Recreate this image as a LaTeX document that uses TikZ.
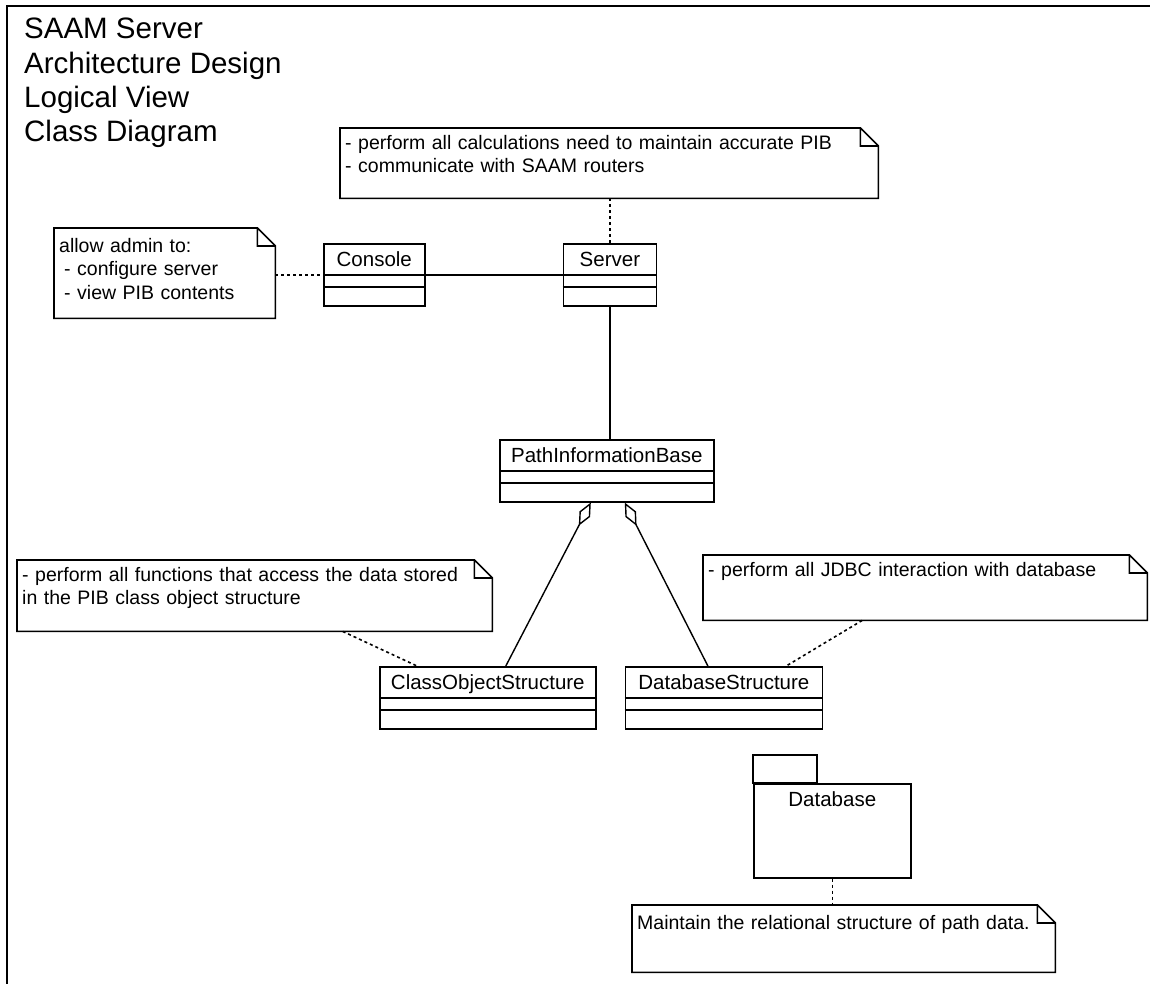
\documentclass[tikz,border=0pt]{standalone}
\usepackage{fontspec}
\setmainfont{Liberation Sans}
\usetikzlibrary{positioning,arrows.meta}

\begin{document}
\begin{tikzpicture}[x=1pt,y=-1pt,
	boxline/.style={line width=1.6pt},
	classbox/.style={rectangle,draw,boxline,anchor=north west,inner xsep=0pt,inner ysep=4pt,text height=19pt,text depth=35pt,font=\fontsize{20.5}{24}\selectfont},
	notebox/.style={rectangle,anchor=north west,inner xsep=5pt,inner ysep=6pt,text height=15pt,align=left,font=\fontsize{19.5}{23.5}\selectfont},
	noteline/.style={line width=1.6pt,dash pattern=on 3pt off 3pt},
	assoc/.style={line width=1.4pt},
	aggr/.style={line width=1.4pt,arrows={Diamond[open,length=26pt,width=12pt]-}}]
	\useasboundingbox (0,0) rectangle (1150,984);
	\draw[line width=1.8pt] (1150,6) -- (7,6) -- (7,984);

	\node[anchor=north west,inner sep=0pt,align=left,font=\fontsize{29.5}{34.3}\selectfont] (title) at (24,18) {SAAM Server\\Architecture Design\\Logical View\\Class Diagram};

	\node[classbox,minimum width=101pt] (console) at (323,243) {Console};
	\node[classbox,minimum width=93pt,right=137pt of console] (server) {Server};
	\node[classbox,minimum width=214pt] (pib) at (499,439) {PathInformationBase};
	\node[classbox,minimum width=216pt] (cos) at (379,666) {ClassObjectStructure};
	\node[classbox,minimum width=197pt,right=28pt of cos] (dbs) {DatabaseStructure};
	\foreach \cls in {console,server,pib,cos,dbs}
		\draw[boxline] ([yshift=-32pt]\cls.north west) -- ([yshift=-32pt]\cls.north east)
			([yshift=-44pt]\cls.north west) -- ([yshift=-44pt]\cls.north east);

	\node[classbox,minimum width=157pt,text depth=67pt] (dbpkg) at (753,783) {Database};
	\draw[boxline] (dbpkg.north west) rectangle ([xshift=64pt,yshift=28pt]dbpkg.north west);

	\node[notebox,text width=528pt,text depth=43pt] (topnote) at (340,128) {- perform all calculations need to maintain accurate PIB\\- communicate with SAAM routers};
	\node[notebox,text width=211pt,text height=18pt,text depth=60pt] (adminnote) at (54,228) {allow admin to:\\\hspace*{5pt}- configure server\\\hspace*{5pt}- view PIB contents};
	\node[notebox,text width=465pt,text depth=44pt] (leftnote) at (17,560) {- perform all functions that access the data stored\\in the PIB class object structure};
	\node[notebox,text width=434pt,text depth=38pt] (rightnote) at (703,555) {- perform all JDBC interaction with database};
	\node[notebox,text width=413pt,text height=18pt,text depth=37pt] (dbnote) at (632,905) {Maintain the relational structure of path data.};
	\foreach \nt in {topnote,adminnote,leftnote,rightnote,dbnote}
		\draw[boxline] (\nt.north west) -- ([xshift=-18pt]\nt.north east) -- ([yshift=-18pt]\nt.north east) -- (\nt.south east) -- (\nt.south west) -- cycle
			([xshift=-18pt]\nt.north east) |- ([yshift=-18pt]\nt.north east);

	\coordinate (sep) at ([yshift=-32pt]console.north west);
	\draw[noteline] (adminnote.east |- sep) -- (sep);
	\draw[assoc] (sep -| console.east) -- (sep -| server.west);
	\draw[noteline] (topnote.south -| server.north) -- (server.north);
	\draw[assoc] (server.south) -- (server.south |- pib.north);
	\draw[aggr] ([xshift=-16pt]pib.south) -- ([xshift=18pt]cos.north);
	\draw[aggr] ([xshift=18pt]pib.south) -- ([xshift=-16pt]dbs.north);
	\draw[noteline] ([xshift=88pt]leftnote.south) -- ([xshift=38pt]cos.north west);
	\draw[noteline] ([xshift=-63pt]rightnote.south) -- ([xshift=-37pt]dbs.north east);
	\draw[noteline] (dbpkg.south) -- (dbnote.north -| dbpkg.south);
\end{tikzpicture}
\end{document}
